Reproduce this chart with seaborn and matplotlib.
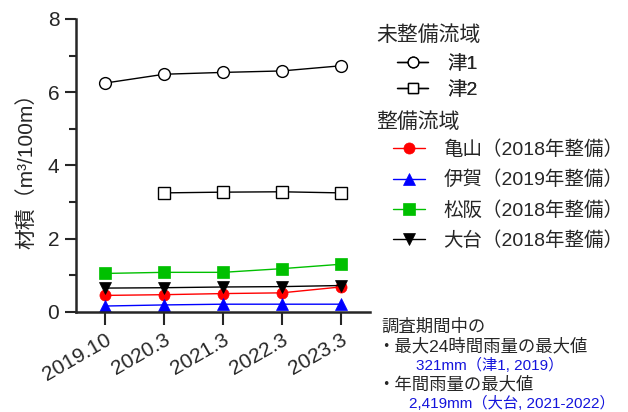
import numpy as np
import pandas as pd
import matplotlib
matplotlib.use("Agg")
import matplotlib.pyplot as plt
import seaborn as sns

sns.set_style("ticks")
plt.rcParams["font.family"] = ["Liberation Sans", "Noto Sans CJK JP", "DejaVu Sans"]

# Survey periods (x axis)
periods = ["2019.10", "2020.3", "2021.3", "2022.3", "2023.3"]

# Driftwood volume (m3/100m) per basin
tsu1 = [6.25, 6.49, 6.54, 6.58, 6.72]
tsu2 = [np.nan, 3.25, 3.27, 3.28, 3.25]
kameyama = [0.45, 0.47, 0.50, 0.52, 0.68]
iga = [0.16, 0.19, 0.21, 0.21, 0.21]
matsusaka = [1.05, 1.08, 1.08, 1.18, 1.30]
odai = [0.65, 0.66, 0.68, 0.69, 0.72]

group_titles = ["未整備流域", "整備流域"]
names_unmaintained = ["津1", "津2"]
names_maintained = ["亀山（2018年整備）", "伊賀（2019年整備）", "松阪（2018年整備）", "大台（2018年整備）"]

fig = plt.figure(figsize=(6.28, 4.12), dpi=100)
ax = fig.add_axes([0.121, 0.243, 0.468, 0.711])

xpos = np.arange(len(periods))

series = [
    (tsu1, names_unmaintained[0], dict(color="black", marker="o", markerfacecolor="white",
                                       markeredgecolor="black", markersize=8.5, markeredgewidth=1.0)),
    (tsu2, names_unmaintained[1], dict(color="black", marker="s", markerfacecolor="white",
                                       markeredgecolor="black", markersize=8, markeredgewidth=1.0)),
    (kameyama, names_maintained[0], dict(color="red", marker="o", markerfacecolor="red",
                                         markeredgecolor="red", markersize=8, markeredgewidth=0.5)),
    (iga, names_maintained[1], dict(color="#0000ff", marker="^", markerfacecolor="#0000ff",
                                    markeredgecolor="#0000ff", markersize=8, markeredgewidth=0.5)),
    (matsusaka, names_maintained[2], dict(color="#00c000", marker="s", markerfacecolor="#00c000",
                                          markeredgecolor="#00c000", markersize=8, markeredgewidth=0.5)),
    (odai, names_maintained[3], dict(color="black", marker="v", markerfacecolor="black",
                                     markeredgecolor="black", markersize=8, markeredgewidth=0.5)),
]

handles = {}
for vals, name, style in series:
    df = pd.DataFrame({"x": xpos, "y": vals}).dropna()
    sns.lineplot(data=df, x="x", y="y", ax=ax, linewidth=1.0, legend=False, **style)
    handles[name] = ax.lines[-1]

ax.set_xlim(-0.5, 4.5)
ax.set_ylim(0, 8)
ax.set_yticks([0, 2, 4, 6, 8])
ax.set_yticks([1, 3, 5, 7], minor=True)
ax.set_xticks(xpos)
ax.set_xticklabels(periods, rotation=30, ha="right", rotation_mode="anchor", fontsize=15)
ax.tick_params(axis="y", which="major", length=8, width=1.5, labelsize=15, pad=4)
ax.tick_params(axis="y", which="minor", length=5, width=1.5)
ax.tick_params(axis="x", which="major", length=9, width=1.5, pad=4)
ax.set_xlabel("")
ax.set_ylabel("材積（m³/100m）", fontsize=15, labelpad=8)
sns.despine(ax=ax)
for s in ["left", "bottom"]:
    ax.spines[s].set_linewidth(1.8)

# Group headings, with the entries of each group indented beneath
fig.text(376 / 628, 1 - 35 / 412, group_titles[0], fontsize=15, va="center", ha="left")
fig.text(376 / 628, 1 - 122 / 412, group_titles[1], fontsize=15, va="center", ha="left")

leg1 = fig.legend(
    [handles[n] for n in names_unmaintained], names_unmaintained,
    loc="upper left", bbox_to_anchor=(397 / 628, 0.867), borderaxespad=0,
    frameon=False, fontsize=14, handlelength=1.6, handletextpad=1.0,
    labelspacing=0.45, borderpad=0, markerscale=0.9)
leg2 = fig.legend(
    [handles[n] for n in names_maintained], names_maintained,
    loc="upper left", bbox_to_anchor=(393 / 628, 0.659), borderaxespad=0,
    frameon=False, fontsize=14, handlelength=1.65, handletextpad=0.93,
    labelspacing=0.59, borderpad=0)
fig.add_artist(leg1)

note_kw = dict(va="center", ha="left")
fig.text(0.608, 1 - 327 / 412, "調査期間中の", fontsize=12.5, **note_kw)
fig.text(0.600, 1 - 346 / 412, "・最大24時間雨量の最大値", fontsize=12.5, **note_kw)
fig.text(0.662, 1 - 365 / 412, "321mm（津1, 2019）", fontsize=11, color="#1414dc", **note_kw)
fig.text(0.600, 1 - 384 / 412, "・年間雨量の最大値", fontsize=12.5, **note_kw)
fig.text(0.652, 1 - 403 / 412, "2,419mm（大台, 2021-2022）", fontsize=11, color="#1414dc", **note_kw)

fig.savefig("out.png", dpi=100)
